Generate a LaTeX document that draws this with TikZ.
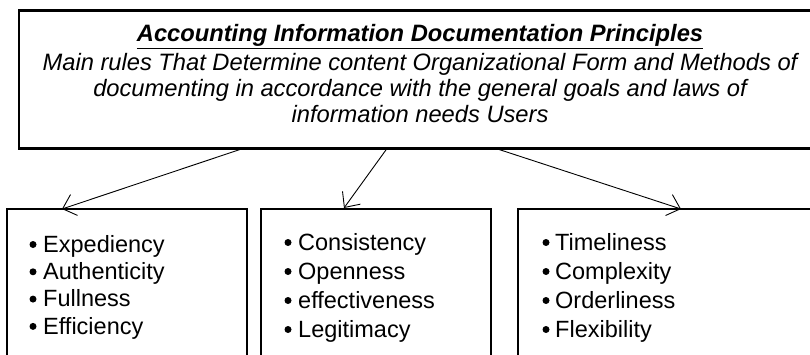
\documentclass[tikz,border=0pt]{standalone}
\usepackage{fontspec}
\setmainfont{Liberation Sans}
\usetikzlibrary{arrows.meta,calc}
\begin{document}
\begin{tikzpicture}[x=1pt,y=-1pt,
  boxstyle/.style={draw=black,line width=2.6pt,fill=none,inner sep=0pt,outer sep=0pt,anchor=north west},
  arr/.style={line width=0.9pt,-{Straight Barb[length=12pt,width=22pt,line width=0.9pt]}},
  itemtext/.style={anchor=base west,align=left,inner sep=0pt,font=\fontsize{23.5}{27.3}\selectfont},
  bul/.style={fill=black,circle,inner sep=0pt,minimum size=7pt}
]
\useasboundingbox (0,0) rectangle (810,355);
% boxes
\node[boxstyle,minimum width=802pt,minimum height=138pt] (top) at (19,10.5) {};
\node[boxstyle,minimum width=240pt,minimum height=170pt] (b1) at (7,209) {};
\node[boxstyle,minimum width=230pt,minimum height=170pt] (b2) at (261,209) {};
\node[boxstyle,minimum width=320pt,minimum height=170pt] (b3) at (518,209) {};
% title and text
\node[anchor=base,inner sep=0pt,font=\fontsize{23.7}{26}\selectfont\bfseries\itshape] (title) at (420,42) {\underline{Accounting Information Documentation Principles}};
\node[anchor=base,inner sep=0pt,align=center,font=\fontsize{23.7}{26}\selectfont\itshape] (body) at (420,123)
  {Main rules That Determine content Organizational Form and Methods of\\
   documenting in accordance with the general goals and laws of\\
   information needs Users};
% arrows
\draw[arr] ($(top.south west)+(224,0)$) -- ($(b1.north west)+(55,0)$);
\draw[arr] ($(top.south west)+(368,0)$) -- ($(b2.north west)+(83,-1)$);
\draw[arr] ($(top.south west)+(477,0)$) -- ($(b3.north west)+(163,0)$);
% items
\node[itemtext] (t1) at (43,334) {Expediency\\Authenticity\\Fullness\\Efficiency};
\node[itemtext,font=\fontsize{23.5}{29}\selectfont] (t2) at (298,337) {Consistency\\Openness\\effectiveness\\Legitimacy};
\node[itemtext,font=\fontsize{23.5}{29}\selectfont] (t3) at (555,337) {Timeliness\\Complexity\\Orderliness\\Flexibility};
\foreach \i in {0,1,2,3}{
  \node[bul] (p1\i) at (33,{252-7.5+27.3*\i}) {};
  \node[bul] (p2\i) at (288,{250-7.5+29*\i}) {};
  \node[bul] (p3\i) at (546,{250-7.5+29*\i}) {};
}
\end{tikzpicture}
\end{document}
